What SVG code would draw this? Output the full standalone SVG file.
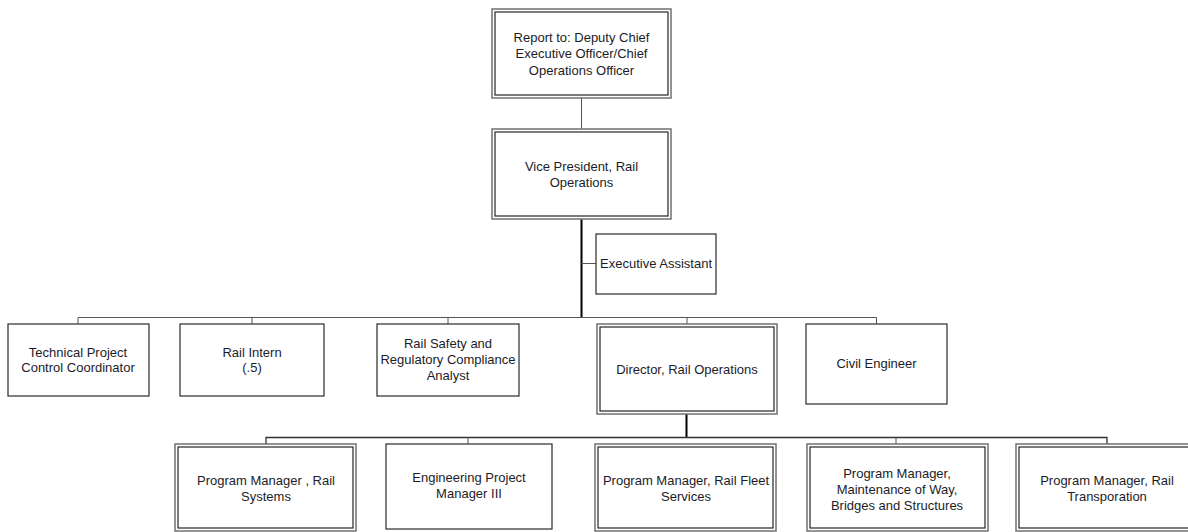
<svg xmlns="http://www.w3.org/2000/svg" width="1188" height="532" viewBox="0 0 1188 532">
<style>
.o{fill:#fff;stroke:#707070;stroke-width:1.5}
.i{fill:none;stroke:#262626;stroke-width:1.2}
.s{fill:#fff;stroke:#2a2a2a;stroke-width:1.2}
.t{font-family:"Liberation Sans",Arial,sans-serif;font-size:13px;fill:#1c1c28;text-anchor:middle}
.c{stroke:#555;stroke-width:1;fill:none}
.k{stroke:#000;stroke-width:2;fill:none}
</style>
<rect width="1188" height="532" fill="#fff"/>
<g id="connectors">
<line class="c" x1="581.5" y1="98" x2="581.5" y2="129"/>
<line class="k" x1="581.5" y1="219" x2="581.5" y2="318"/>
<line class="c" x1="581.5" y1="263.5" x2="596" y2="263.5"/>
<polyline class="c" points="78,324 78,317.5 876.5,317.5 876.5,324"/>
<line class="c" x1="252" y1="317.5" x2="252" y2="324"/>
<line class="c" x1="448" y1="317.5" x2="448" y2="324"/>
<line class="c" x1="687" y1="317.5" x2="687" y2="324"/>
<line class="k" x1="686.5" y1="414" x2="686.5" y2="438"/>
<polyline class="c" points="266,444 266,437.5 1107,437.5 1107,444" style="stroke:#333;stroke-width:1.3"/>
<line class="c" x1="468" y1="437.5" x2="468" y2="444"/>
<line class="c" x1="896" y1="437.5" x2="896" y2="444"/>
</g>
<g id="n-report">
<rect class="o" x="492" y="9" width="179" height="89"/>
<rect class="i" x="495" y="12" width="173" height="83"/>
<text class="t" x="581.5" y="41.5">Report to: Deputy Chief</text>
<text class="t" x="581.5" y="58">Executive Officer/Chief</text>
<text class="t" x="581.5" y="74.5">Operations Officer</text>
</g>
<g id="n-vp">
<rect class="o" x="492" y="129" width="179" height="90"/>
<rect class="i" x="495" y="132" width="173" height="84"/>
<text class="t" x="581.5" y="170.5">Vice President, Rail</text>
<text class="t" x="581.5" y="187">Operations</text>
</g>
<g id="n-exec">
<rect class="s" x="596" y="234" width="120" height="60"/>
<text class="t" x="656" y="268">Executive Assistant</text>
</g>
<g id="n-tech">
<rect class="s" x="8" y="324" width="141" height="72"/>
<text class="t" x="78" y="356.5">Technical Project</text>
<text class="t" x="78" y="371.5">Control Coordinator</text>
</g>
<g id="n-intern">
<rect class="s" x="180" y="324" width="144" height="72"/>
<text class="t" x="252" y="356.5">Rail Intern</text>
<text class="t" x="252" y="372">(.5)</text>
</g>
<g id="n-safety">
<rect class="s" x="377" y="324" width="142" height="72"/>
<text class="t" x="448" y="347.5">Rail Safety and</text>
<text class="t" x="448" y="363.5">Regulatory Compliance</text>
<text class="t" x="448" y="380">Analyst</text>
</g>
<g id="n-director">
<rect class="o" x="597" y="324" width="180" height="90"/>
<rect class="i" x="600" y="327" width="174" height="84"/>
<text class="t" x="687" y="373.5">Director, Rail Operations</text>
</g>
<g id="n-civil">
<rect class="s" x="806" y="324" width="141" height="80"/>
<text class="t" x="876.5" y="367.5">Civil Engineer</text>
</g>
<g id="n-pmsys">
<rect class="o" x="175" y="444" width="181" height="87"/>
<rect class="i" x="178" y="447" width="175" height="81"/>
<text class="t" x="266" y="484.5">Program Manager , Rail</text>
<text class="t" x="266" y="500.5">Systems</text>
</g>
<g id="n-eng">
<rect class="s" x="386" y="444" width="166" height="85"/>
<text class="t" x="469" y="481.5">Engineering Project</text>
<text class="t" x="469" y="497.5">Manager III</text>
</g>
<g id="n-fleet">
<rect class="o" x="595" y="444" width="181" height="87"/>
<rect class="i" x="598" y="447" width="175" height="81"/>
<text class="t" x="686" y="484.5">Program Manager, Rail Fleet</text>
<text class="t" x="686" y="500.5">Services</text>
</g>
<g id="n-mow">
<rect class="o" x="807" y="444" width="181" height="87"/>
<rect class="i" x="810" y="447" width="175" height="81"/>
<text class="t" x="897" y="477.5">Program Manager,</text>
<text class="t" x="897" y="493.5">Maintenance of Way,</text>
<text class="t" x="897" y="509.5">Bridges and Structures</text>
</g>
<g id="n-transp">
<rect class="o" x="1016" y="444" width="181" height="87"/>
<rect class="i" x="1019" y="447" width="175" height="81"/>
<text class="t" x="1107" y="484.5">Program Manager, Rail</text>
<text class="t" x="1107" y="500.5">Transporation</text>
</g>
</svg>
